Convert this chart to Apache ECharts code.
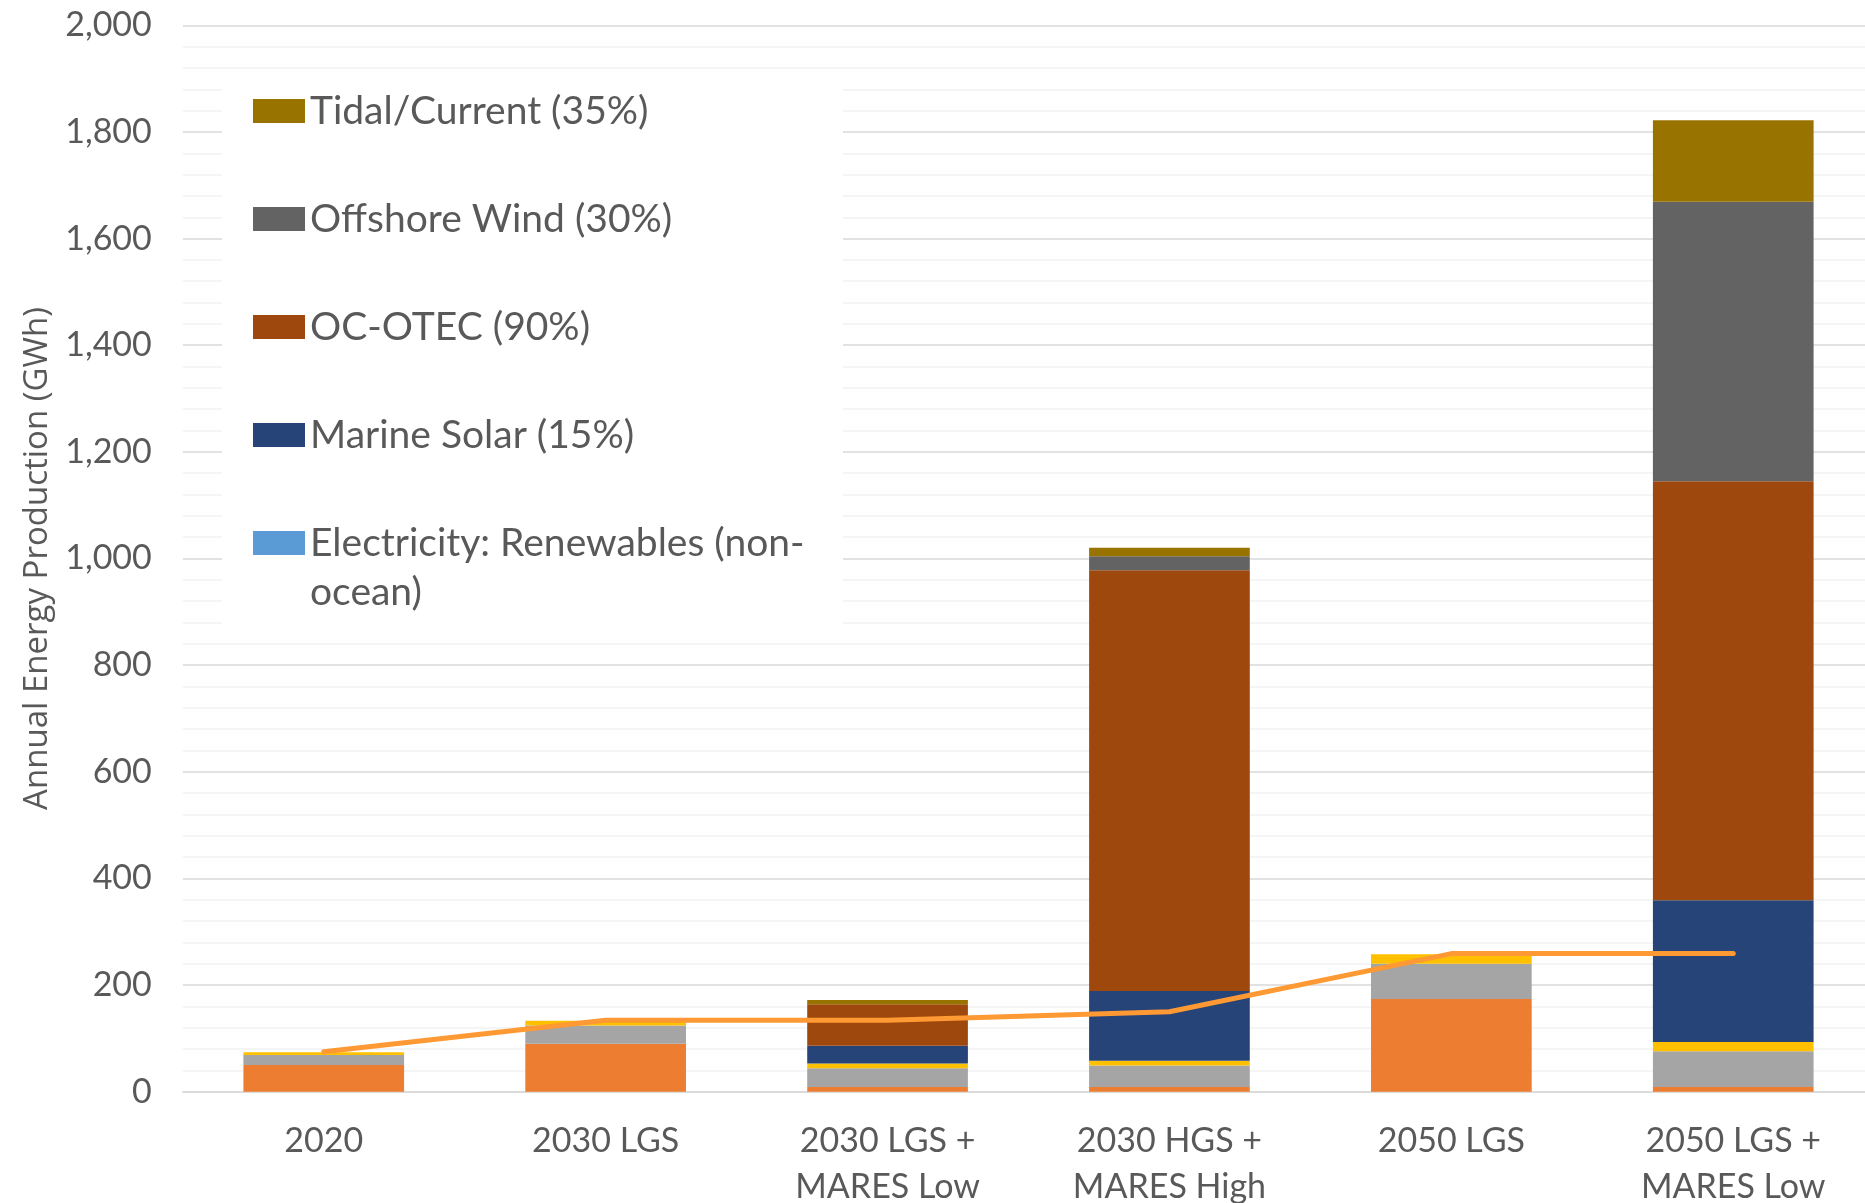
<!DOCTYPE html>
<html>
<head>
<meta charset="utf-8">
<script src="https://cdn.jsdelivr.net/npm/echarts@6/dist/echarts.min.js"></script>
<style>
html,body{margin:0;padding:0;background:#fff;}
#chart{width:1865px;height:1203px;}
</style>
</head>
<body>
<div id="chart"></div>
<script>
// ---- data ----
const categories = ['2020', '2030 LGS', '2030 LGS +\nMARES Low', '2030 HGS +\nMARES High', '2050 LGS', '2050 LGS +\nMARES Low'];
const yTicks = [0, 200, 400, 600, 800, 1000, 1200, 1400, 1600, 1800, 2000];

// stacked segments, bottom to top
const segOrange      = [50, 90, 9, 9, 174, 9];
const segGray        = [19, 34, 35, 40, 66, 67];
const segYellow      = [5, 9, 9, 9, 18, 17];
const renewablesNonOcean = [0, 0, 0, 0, 0, 0];
const marineSolar    = [0, 0, 33, 131, 0, 266];
const ocOtec         = [0, 0, 78, 789, 0, 786];
const offshoreWind   = [0, 0, 0, 26, 0, 524];
const tidalCurrent   = [0, 0, 8, 16, 0, 153];
// line
const lineValues     = [75, 134, 134, 150, 259, 259];

const legendNames = ['Tidal/Current (35%)', 'Offshore Wind (30%)', 'OC-OTEC (90%)', 'Marine Solar (15%)', 'Electricity: Renewables (non-ocean)'];

const chart = echarts.init(document.getElementById('chart'), null, {renderer: 'canvas'});

function barSeries(name, data, color) {
  return {
    name: name, type: 'bar', stack: 'total', data: data,
    barCategoryGap: '43%',
    itemStyle: {color: color},
    emphasis: {disabled: true}
  };
}

const textColor = '#595959';

const option = {
  animation: false,
  backgroundColor: '#ffffff',
  grid: {left: 182.8, right: -9.2, top: 25.3, bottom: 111.3, containLabel: false, outerBoundsMode: 'none'},
  graphic: [
    {
      type: 'rect', z: 1,
      shape: {x: 222, y: 78, width: 621, height: 557},
      style: {fill: '#ffffff'}
    },
    {
      type: 'text', z: 5, left: 310, top: 568,
      style: {text: 'ocean)', fontFamily: 'Lato', fontSize: 39, fill: textColor, lineHeight: 48}
    }
  ],
  legend: {
    orient: 'vertical', left: 253, top: 87, padding: 0,
    itemWidth: 52, itemHeight: 24, itemGap: 60,
    selectedMode: false,
    icon: 'rect',
    textStyle: {fontFamily: 'Lato', fontSize: 39, color: textColor, lineHeight: 48},
    data: legendNames,
    formatter: function (n) {
      return n === 'Electricity: Renewables (non-ocean)' ? 'Electricity: Renewables (non-' : n;
    }
  },
  xAxis: {
    type: 'category', data: categories,
    axisTick: {show: false},
    axisLine: {lineStyle: {color: '#D9D9D9', width: 1.5}},
    axisLabel: {fontFamily: 'Lato', fontSize: 34, color: textColor, lineHeight: 46, margin: 26, interval: 0}
  },
  yAxis: {
    type: 'value', min: yTicks[0], max: yTicks[yTicks.length - 1], interval: 200,
    name: 'Annual Energy Production (GWh)', nameLocation: 'middle', nameGap: 128,
    nameTextStyle: {fontFamily: 'Open Sans', fontSize: 33, color: textColor},
    axisLine: {show: false}, axisTick: {show: false},
    axisLabel: {fontFamily: 'Lato', fontSize: 34, color: textColor, margin: 31,
      formatter: function (v) { return v.toLocaleString('en-US'); }},
    splitLine: {lineStyle: {color: '#D9D9D9', width: 1.5}},
    minorTick: {show: false, splitNumber: 5},
    minorSplitLine: {show: true, lineStyle: {color: '#F2F2F2', width: 1.5}}
  },
  series: [
    barSeries('Segment A', segOrange, '#ED7D31'),
    barSeries('Segment B', segGray, '#A5A5A5'),
    barSeries('Segment C', segYellow, '#FFC000'),
    barSeries('Electricity: Renewables (non-ocean)', renewablesNonOcean, '#5B9BD5'),
    barSeries('Marine Solar (15%)', marineSolar, '#264478'),
    barSeries('OC-OTEC (90%)', ocOtec, '#9E480E'),
    barSeries('Offshore Wind (30%)', offshoreWind, '#636363'),
    barSeries('Tidal/Current (35%)', tidalCurrent, '#997300'),
    {
      name: 'Total', type: 'line', data: lineValues, symbol: 'none', z: 5,
      lineStyle: {color: '#FF9933', width: 5, cap: 'round', join: 'round'},
      itemStyle: {color: '#FF9933'},
      emphasis: {disabled: true}
    }
  ]
};
chart.setOption(option);
</script>
</body>
</html>
